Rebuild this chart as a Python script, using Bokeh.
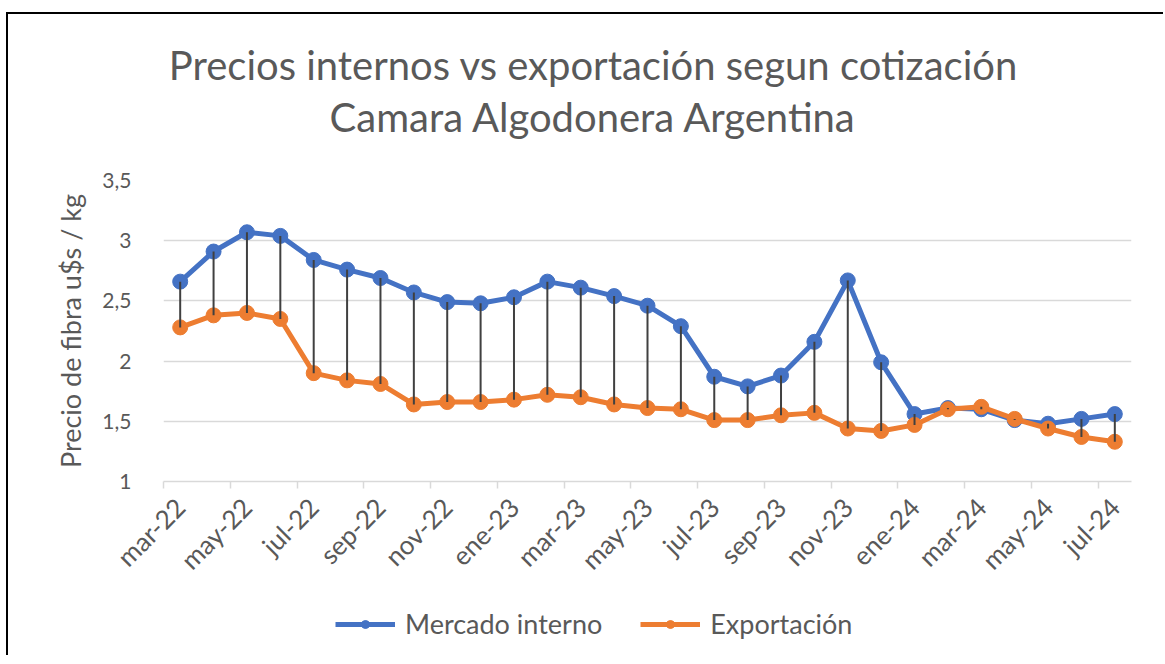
from bokeh.plotting import figure
from bokeh.models import Range1d, FixedTicker, Legend, LegendItem, Label, LinearAxis
from bokeh.layouts import column
from bokeh.embed import file_html
from bokeh.resources import INLINE
from math import pi

months = ["mar-22", "abr-22", "may-22", "jun-22", "jul-22", "ago-22", "sep-22", "oct-22",
          "nov-22", "dic-22", "ene-23", "feb-23", "mar-23", "abr-23", "may-23", "jun-23",
          "jul-23", "ago-23", "sep-23", "oct-23", "nov-23", "dic-23", "ene-24", "feb-24",
          "mar-24", "abr-24", "may-24", "jun-24", "jul-24"]
mercado_interno = [2.66, 2.91, 3.07, 3.04, 2.84, 2.76, 2.69, 2.57, 2.49, 2.48, 2.53, 2.66,
                   2.61, 2.54, 2.46, 2.29, 1.87, 1.79, 1.88, 2.16, 2.67, 1.99, 1.56, 1.61,
                   1.60, 1.51, 1.48, 1.52, 1.56]
exportacion = [2.28, 2.38, 2.40, 2.35, 1.90, 1.84, 1.81, 1.64, 1.66, 1.66, 1.68, 1.72,
               1.70, 1.64, 1.61, 1.60, 1.51, 1.51, 1.55, 1.57, 1.44, 1.42, 1.47, 1.60,
               1.62, 1.52, 1.44, 1.37, 1.33]
x_tick_labels = ["mar-22", "may-22", "jul-22", "sep-22", "nov-22", "ene-23", "mar-23",
                 "may-23", "jul-23", "sep-23", "nov-23", "ene-24", "mar-24", "may-24", "jul-24"]
y_ticks = [1, 1.5, 2, 2.5, 3, 3.5]
y_tick_labels = ["1", "1,5", "2", "2,5", "3", "3,5"]
title_lines = ["Precios internos vs exportación segun cotización", "Camara Algodonera Argentina"]
series_names = ["Mercado interno", "Exportación"]

BLUE = "#4472C4"
ORANGE = "#ED7D31"
TXT = "#595959"
GRID = "#D9D9D9"
FONT = "Lato"
W = 1155

x = [i + 0.5 for i in range(len(months))]
x_ticks = [months.index(m) for m in x_tick_labels]
x_label_pos = [t + 0.5 for t in x_ticks]

# ---------------- title strip ----------------
tf = figure(width=W, height=150, output_backend="svg", toolbar_location=None,
            x_range=Range1d(0, 1), y_range=Range1d(0, 1), min_border=0,
            outline_line_color=None)
tf.axis.visible = False
tf.grid.visible = False
for txt, ypos in zip(title_lines, [100, 48]):
    tf.add_layout(Label(x=430, y=ypos, x_units="screen", y_units="screen", text=txt,
                        text_align="center", text_baseline="middle", text_font=FONT,
                        text_font_size="40px", text_color=TXT))

# ---------------- main chart ----------------
p = figure(width=W, height=431, output_backend="svg", toolbar_location=None,
           x_range=Range1d(0, len(months)), y_range=Range1d(1, 3.5),
           min_border_left=155, min_border_right=32, min_border_top=16, min_border_bottom=114,
           outline_line_color=None)

# x axis: tick marks at month boundaries (labels not drawn)
p.xaxis.ticker = FixedTicker(ticks=x_ticks)
p.xaxis.major_label_text_font_size = "1px"
p.xaxis.major_label_text_color = None
p.xaxis.major_label_standoff = 0
p.xaxis.axis_line_color = GRID
p.xaxis.axis_line_width = 1.5
p.xaxis.major_tick_line_color = GRID
p.xaxis.major_tick_line_width = 1.5
p.xaxis.major_tick_in = 0
p.xaxis.major_tick_out = 7
p.xaxis.minor_tick_line_color = None

# x axis labels centred on their months
lab_axis = LinearAxis(ticker=FixedTicker(ticks=x_label_pos),
                      major_label_overrides={k: v for k, v in zip(x_label_pos, x_tick_labels)},
                      major_label_orientation=pi / 4, major_label_text_font=FONT,
                      major_label_text_font_size="26px", major_label_text_color=TXT,
                      axis_line_color=None, major_tick_line_color=None,
                      minor_tick_line_color=None, major_label_standoff=8)
p.add_layout(lab_axis, "below")

p.yaxis.ticker = FixedTicker(ticks=y_ticks)
p.yaxis.major_label_overrides = {k: v for k, v in zip(y_ticks, y_tick_labels)}
p.yaxis.major_label_text_font = FONT
p.yaxis.major_label_text_font_size = "21px"
p.yaxis.major_label_text_color = TXT
p.yaxis.axis_line_color = None
p.yaxis.major_tick_line_color = None
p.yaxis.minor_tick_line_color = None
p.yaxis.major_label_standoff = 26
p.yaxis.axis_label = "Precio de fibra u$s / kg"
p.yaxis.axis_label_text_font = FONT
p.yaxis.axis_label_text_font_size = "27px"
p.yaxis.axis_label_text_font_style = "normal"
p.yaxis.axis_label_text_color = TXT
p.yaxis.axis_label_standoff = 12

p.xgrid.grid_line_color = None
p.ygrid.ticker = FixedTicker(ticks=y_ticks)
p.ygrid.grid_line_color = GRID
p.ygrid.grid_line_width = 1.5

# series
p.line(x, mercado_interno, line_color=BLUE, line_width=5)
p.scatter(x, mercado_interno, size=15, fill_color=BLUE, line_color=BLUE)
p.line(x, exportacion, line_color=ORANGE, line_width=5)
p.scatter(x, exportacion, size=15, fill_color=ORANGE, line_color=ORANGE)

# high-low lines
p.segment(x0=x, y0=mercado_interno, x1=x, y1=exportacion, line_color="#404040", line_width=2)

# ---------------- legend strip ----------------
lf = figure(width=W, height=60, output_backend="svg", toolbar_location=None,
            x_range=Range1d(0, 1), y_range=Range1d(0, 1), min_border=0,
            outline_line_color=None)
lf.axis.visible = False
lf.grid.visible = False
# off-range proxies, only used to draw the legend samples
ll1 = lf.line([-1, -2], [-1, -2], line_color=BLUE, line_width=5)
lc1 = lf.scatter([-1], [-1], size=16, fill_color=BLUE, line_color=BLUE)
ll2 = lf.line([-1, -2], [-1, -2], line_color=ORANGE, line_width=5)
lc2 = lf.scatter([-1], [-1], size=16, fill_color=ORANGE, line_color=ORANGE)
legend = Legend(items=[LegendItem(label=series_names[0], renderers=[ll1, lc1]),
                       LegendItem(label=series_names[1], renderers=[ll2, lc2])],
                orientation="horizontal", location=(172, 15),
                glyph_width=60, glyph_height=20, spacing=38, label_standoff=10,
                label_text_font=FONT, label_text_font_size="27px", label_text_color=TXT,
                border_line_color=None, background_fill_alpha=0, margin=0, padding=0)
lf.add_layout(legend, "center")

layout = column(tf, p, lf, spacing=0,
                styles={"border-top": "2px solid #000", "border-left": "2px solid #000",
                        "margin-top": "12px", "margin-left": "6px"})

open("out.html", "w").write(file_html(layout, INLINE))
